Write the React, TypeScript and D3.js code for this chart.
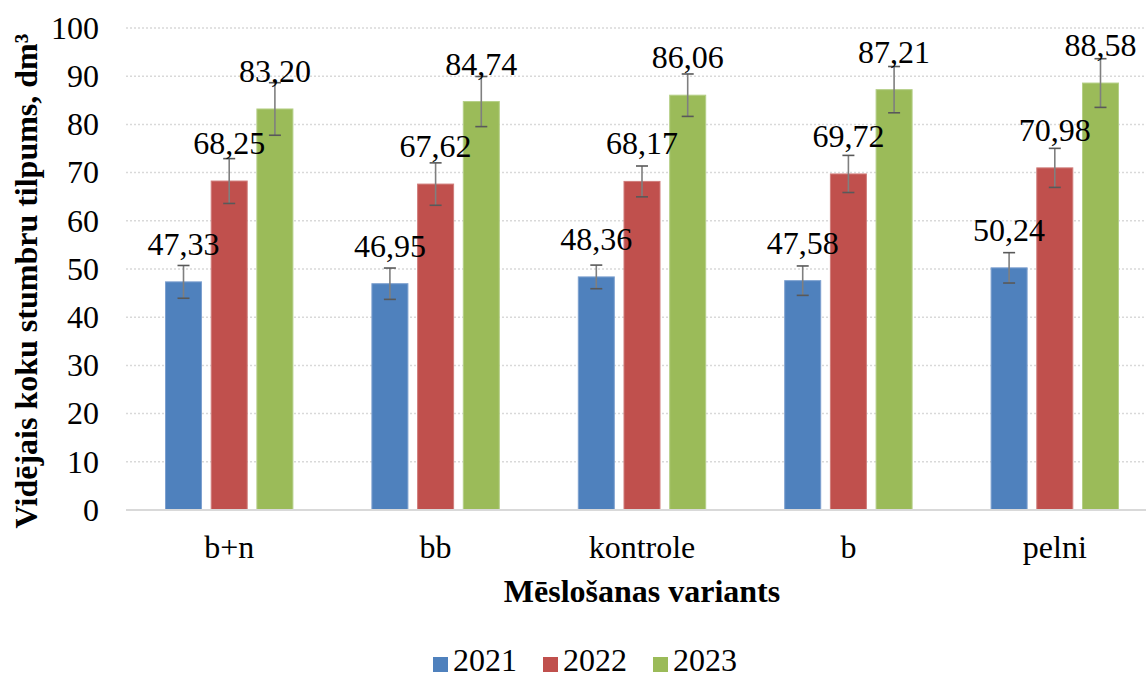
import React from "react";
import * as d3 from "d3";

const categories = ["b+n", "bb", "kontrole", "b", "pelni"];
const seriesNames = ["2021", "2022", "2023"];
const values2021 = [47.33, 46.95, 48.36, 47.58, 50.24];
const values2022 = [68.25, 67.62, 68.17, 69.72, 70.98];
const values2023 = [83.2, 84.74, 86.06, 87.21, 88.58];
const errors2021 = [3.4, 3.25, 2.45, 3.05, 3.15];
const errors2022 = [4.65, 4.4, 3.2, 3.85, 4.05];
const errors2023 = [5.45, 5.2, 4.4, 4.8, 5.05];
const yTicks = [0, 10, 20, 30, 40, 50, 60, 70, 80, 90, 100];
const colors = ["#4F81BD", "#C0504D", "#9BBB59"];
const strokeColors = ["#7da0cf", "#d07d7b", "#b5cf87"];

const W = 1146;
const H = 679;
const FONT = '"Liberation Serif", "DejaVu Serif", serif';

export default function App() {
  const seriesValues = [values2021, values2022, values2023];
  const seriesErrors = [errors2021, errors2022, errors2023];
  const x0 = d3.scaleBand<string>().domain(categories).range([126, 1158]).padding(0);
  const x1 = d3
    .scaleBand<string>()
    .domain(seriesNames)
    .range([-63.7, 63.7])
    .paddingInner(0.212)
    .paddingOuter(0);
  const y = d3.scaleLinear().domain([0, 100]).range([510, 28]);
  const bw = x1.bandwidth();
  const fmt = (v: number) => v.toFixed(2).replace(".", ",");
  const tStyle = { fontFamily: FONT } as React.CSSProperties;
  const FS = 32;

  return (
    <svg
      width={W}
      height={H}
      style={{ position: "absolute", left: 0, top: 0, background: "#fff", fontFamily: FONT }}
    >
      <rect x={0} y={0} width={W} height={H} fill="#fff" />
      {yTicks
        .filter((t) => t > 0)
        .map((t) => (
          <line
            key={"g" + t}
            x1={126}
            x2={1158}
            y1={y(t)}
            y2={y(t)}
            stroke="#d9d9d9"
            strokeWidth={1.5}
            strokeDasharray="2,2"
          />
        ))}
      {yTicks.map((t) => (
        <text
          key={"t" + t}
          x={99}
          y={y(t)}
          dy="0.34em"
          textAnchor="end"
          fontSize={FS}
          fill="#000"
          style={tStyle}
        >
          {t}
        </text>
      ))}
      {seriesNames.map((s, si) =>
        categories.map((c, ci) => {
          const v = seriesValues[si][ci];
          const bx = (x0(c) as number) + x0.bandwidth() / 2 + (x1(s) as number);
          return (
            <rect
              key={s + c}
              x={bx}
              y={y(v)}
              width={bw}
              height={y(0) - y(v)}
              fill={colors[si]}
              stroke={strokeColors[si]}
              strokeWidth={1}
            />
          );
        })
      )}
      <line x1={126} x2={1158} y1={y(0)} y2={y(0)} stroke="#d9d9d9" strokeWidth={2} />
      {seriesNames.map((s, si) =>
        categories.map((c, ci) => {
          const v = seriesValues[si][ci];
          const e = seriesErrors[si][ci];
          const cx = (x0(c) as number) + x0.bandwidth() / 2 + (x1(s) as number) + bw / 2;
          return (
            <g key={"e" + s + c} stroke="#595959" strokeWidth={1.6}>
              <line x1={cx} x2={cx} y1={y(v + e)} y2={y(v - e)} stroke="#7f7f7f" />
              <line x1={cx - 6} x2={cx + 6} y1={y(v + e)} y2={y(v + e)} />
              <line x1={cx - 6} x2={cx + 6} y1={y(v - e)} y2={y(v - e)} />
            </g>
          );
        })
      )}
      {seriesNames.map((s, si) =>
        categories.map((c, ci) => {
          const v = seriesValues[si][ci];
          const cx = (x0(c) as number) + x0.bandwidth() / 2 + (x1(s) as number) + bw / 2;
          return (
            <text
              key={"l" + s + c}
              x={cx}
              y={y(v) - 27}
              textAnchor="middle"
              fontSize={FS}
              fill="#000"
              style={tStyle}
            >
              {fmt(v)}
            </text>
          );
        })
      )}
      {categories.map((c) => (
        <text
          key={"c" + c}
          x={(x0(c) as number) + x0.bandwidth() / 2}
          y={558}
          textAnchor="middle"
          fontSize={FS}
          fill="#000"
          style={tStyle}
        >
          {c}
        </text>
      ))}
      <text
        x={642}
        y={602}
        textAnchor="middle"
        fontSize={FS}
        fontWeight="bold"
        fill="#000"
        style={tStyle}
      >
        Mēslošanas variants
      </text>
      <text
        transform={`translate(37, 281) rotate(-90)`}
        textAnchor="middle"
        fontSize={FS}
        fontWeight="bold"
        fill="#000"
        style={tStyle}
      >
        Vidējais koku stumbru tilpums, dm³
      </text>
      {seriesNames.map((s, si) => {
        const lx = 433 + si * 110;
        return (
          <g key={"lg" + s}>
            <rect x={lx} y={657} width={15} height={15} fill={colors[si]} />
            <text x={lx + 20} y={671} fontSize={FS} fill="#000" style={tStyle}>
              {s}
            </text>
          </g>
        );
      })}
    </svg>
  );
}
